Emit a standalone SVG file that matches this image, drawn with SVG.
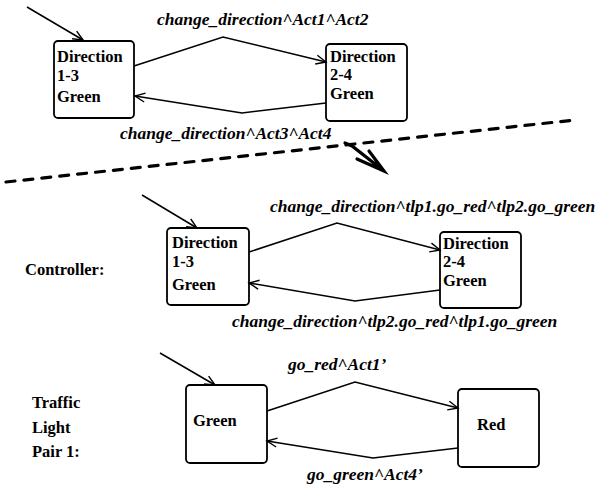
<svg xmlns="http://www.w3.org/2000/svg" width="597" height="489" viewBox="0 0 597 489">
<style>
  .box { fill: #fff; stroke: #000; stroke-width: 1.8; }
</style>
<defs>
  <marker id="ah" markerUnits="userSpaceOnUse" markerWidth="14" markerHeight="12" viewBox="-12 -6 14 12" refX="0" refY="0" orient="auto">
    <path d="M-10,-4.5 L0,0 L-10,4.5" fill="none" stroke="#000" stroke-width="1.4"/>
  </marker>
</defs>
<rect width="597" height="489" fill="#fff"/>

<g id="top-d13">
  <rect class="box" x="54" y="41" width="80" height="77" rx="4"/>
  <g font-family="Liberation Serif, serif" font-weight="bold" font-size="16.5">
    <text x="57" y="62">Direction</text>
    <text x="57" y="81">1-3</text>
    <text x="57" y="102">Green</text>
  </g>
</g>
<g id="top-d24">
  <rect class="box" x="326" y="44" width="81" height="77" rx="4"/>
  <g font-family="Liberation Serif, serif" font-weight="bold" font-size="16.5">
    <text x="330" y="62">Direction</text>
    <text x="330" y="80">2-4</text>
    <text x="330" y="99">Green</text>
  </g>
</g>

<text x="25" y="275" font-family="Liberation Serif, serif" font-weight="bold" font-size="16.5">Controller:</text>
<g id="mid-d13">
  <rect class="box" x="167" y="228" width="82" height="77" rx="4"/>
  <g font-family="Liberation Serif, serif" font-weight="bold" font-size="16.5">
    <text x="172" y="248">Direction</text>
    <text x="172" y="267">1-3</text>
    <text x="172" y="290">Green</text>
  </g>
</g>
<g id="mid-d24">
  <rect class="box" x="440" y="232" width="81" height="76" rx="4"/>
  <g font-family="Liberation Serif, serif" font-weight="bold" font-size="16.5">
    <text x="443" y="249">Direction</text>
    <text x="443" y="267">2-4</text>
    <text x="443" y="286">Green</text>
  </g>
</g>

<g font-family="Liberation Serif, serif" font-weight="bold" font-size="16.5">
  <text x="32" y="408">Traffic</text>
  <text x="32" y="433">Light</text>
  <text x="32" y="457">Pair 1:</text>
</g>
<g id="bot-green">
  <rect class="box" x="186" y="385" width="81" height="78" rx="4"/>
  <text x="193" y="426" font-family="Liberation Serif, serif" font-weight="bold" font-size="16.5">Green</text>
</g>
<g id="bot-red">
  <rect class="box" x="458" y="389" width="81" height="78" rx="4"/>
  <text x="477" y="430" font-family="Liberation Serif, serif" font-weight="bold" font-size="16.5">Red</text>
</g>

<g id="connectors" fill="none" stroke="#000" stroke-width="1.5">
  <path d="M27,7 L83,40" marker-end="url(#ah)"/>
  <path d="M134,66 L223,37 L326,62" marker-end="url(#ah)"/>
  <path d="M326,103 L242,113 L135,96" marker-end="url(#ah)"/>
  <path d="M142,195 L197,228" marker-end="url(#ah)"/>
  <path d="M249,252 L337,223 L440,250" marker-end="url(#ah)"/>
  <path d="M440,290 L355,301 L249,283" marker-end="url(#ah)"/>
  <path d="M160,353 L215,385" marker-end="url(#ah)"/>
  <path d="M267,411 L355,382 L458,408" marker-end="url(#ah)"/>
  <path d="M458,448 L373,458 L267,441" marker-end="url(#ah)"/>
  <path d="M6,182 L575,120" stroke-width="3.2" stroke-linecap="round" stroke-dasharray="9 9"/>
  <path d="M345,143 L352,146 L384,171 M357,159 L384,171 L369,151" stroke-width="3.2" stroke-linecap="round"/>
</g>

<g font-family="Liberation Serif, serif" font-weight="bold" font-style="italic" font-size="17.5">
  <text x="157" y="25">change_direction^Act1^Act2</text>
  <text x="120" y="139">change_direction^Act3^Act4</text>
  <text x="270" y="212">change_direction^tlp1.go_red^tlp2.go_green</text>
  <text x="232" y="327">change_direction^tlp2.go_red^tlp1.go_green</text>
  <text x="288" y="370">go_red^Act1&#8217;</text>
  <text x="307" y="480">go_green^Act4&#8217;</text>
</g>
</svg>
